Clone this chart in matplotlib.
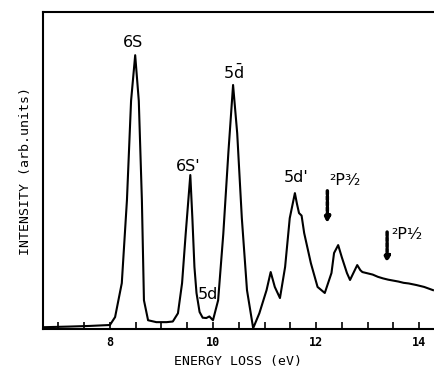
import numpy as np
import matplotlib.pyplot as plt

# energy loss (eV) and intensity (arb. units)
energy = [6.70, 7.20, 7.60, 8.00, 8.10, 8.23, 8.33, 8.41, 8.49, 8.56, 8.62, 8.66,
          8.74, 8.90, 9.10, 9.22, 9.32, 9.40, 9.47, 9.56, 9.60, 9.64, 9.68, 9.74,
          9.80, 9.87, 9.93, 10.00, 10.10, 10.20, 10.30, 10.39, 10.47, 10.56, 10.66,
          10.78, 10.90, 11.04, 11.12, 11.20, 11.30, 11.40, 11.49, 11.59, 11.63,
          11.67, 11.72, 11.77, 11.90, 12.03, 12.17, 12.30, 12.35, 12.43, 12.50,
          12.60, 12.66, 12.80, 12.86, 12.90, 13.00, 13.10, 13.20, 13.30, 13.40,
          13.50, 13.60, 13.70, 13.80, 13.95, 14.10, 14.27]
intensity = [0.6, 0.8, 1.0, 1.3, 3.8, 14.5, 40.7, 72.0, 86.4, 72.0, 40.7, 9.1,
             2.8, 2.2, 2.2, 2.4, 5.0, 14.5, 30.0, 48.6, 35.0, 19.6, 11.4, 5.4,
             3.6, 3.5, 4.0, 2.8, 9.1, 30.0, 56.0, 77.0, 61.8, 35.0, 12.3,
             0.3, 5.0, 12.3, 18.0, 13.3, 9.8, 19.6, 35.0, 42.9, 39.5,
             36.6, 35.8, 30.3, 20.8, 13.3, 11.4, 17.7, 24.0, 26.5, 22.7,
             17.7, 15.5, 20.2, 18.6, 18.0, 17.6, 17.2, 16.5, 16.0, 15.6,
             15.3, 15.0, 14.6, 14.4, 13.9, 13.3, 12.3]

peak_labels = ['6S', "6S'", r'5$\bar{\mathsf{d}}$', '5d', "5d'"]
label_x = [8.45, 9.52, 10.39, 9.90, 11.62]
label_y = [88.0, 49.0, 78.0, 8.5, 45.5]

fig = plt.figure(figsize=(4.34, 3.77), dpi=100)
ax = fig.add_axes([0.099, 0.127, 0.901, 0.841])

ax.plot(energy, intensity, color='black', lw=1.5)

for lab, x, y in zip(peak_labels, label_x, label_y):
    ax.text(x, y, lab, fontsize=11.5, ha='center', va='bottom')

# ionisation limits with hatched arrows
ax.annotate('', xy=(12.22, 32.5), xytext=(12.22, 44.5),
            arrowprops=dict(arrowstyle='-|>', color='black', lw=2.5,
                            linestyle=(0, (1, 0.6)), mutation_scale=8))
ax.annotate('', xy=(13.38, 20.0), xytext=(13.38, 31.5),
            arrowprops=dict(arrowstyle='-|>', color='black', lw=2.5,
                            linestyle=(0, (1, 0.6)), mutation_scale=8))
ax.text(12.25, 44.5, '²P³⁄₂', fontsize=11.5, ha='left', va='bottom')
ax.text(13.47, 27.5, '²P¹⁄₂', fontsize=11.5, ha='left', va='bottom')

ax.set_xlim(6.70, 14.29)
ax.set_ylim(0, 100)
ax.set_xticks([8, 10, 12, 14])
ax.set_xticklabels(['8', '10', '12', '14'], family='DejaVu Sans Mono',
                   fontsize=8.5, fontweight='bold')
ax.set_xticks(np.arange(7, 14.3, 0.5), minor=True)
ax.tick_params(axis='x', which='both', direction='in', length=5, width=1.2, pad=5)
ax.set_yticks([])
ax.spines['right'].set_visible(False)
for s in ['left', 'top', 'bottom']:
    ax.spines[s].set_linewidth(1.5)

ax.set_xlabel('ENERGY LOSS (eV)', family='DejaVu Sans Mono', fontsize=9.5, labelpad=4)
ax.set_ylabel('INTENSITY (arb.units)', family='DejaVu Sans Mono', fontsize=9.5, labelpad=8)

fig.savefig('out.png', dpi=100)
